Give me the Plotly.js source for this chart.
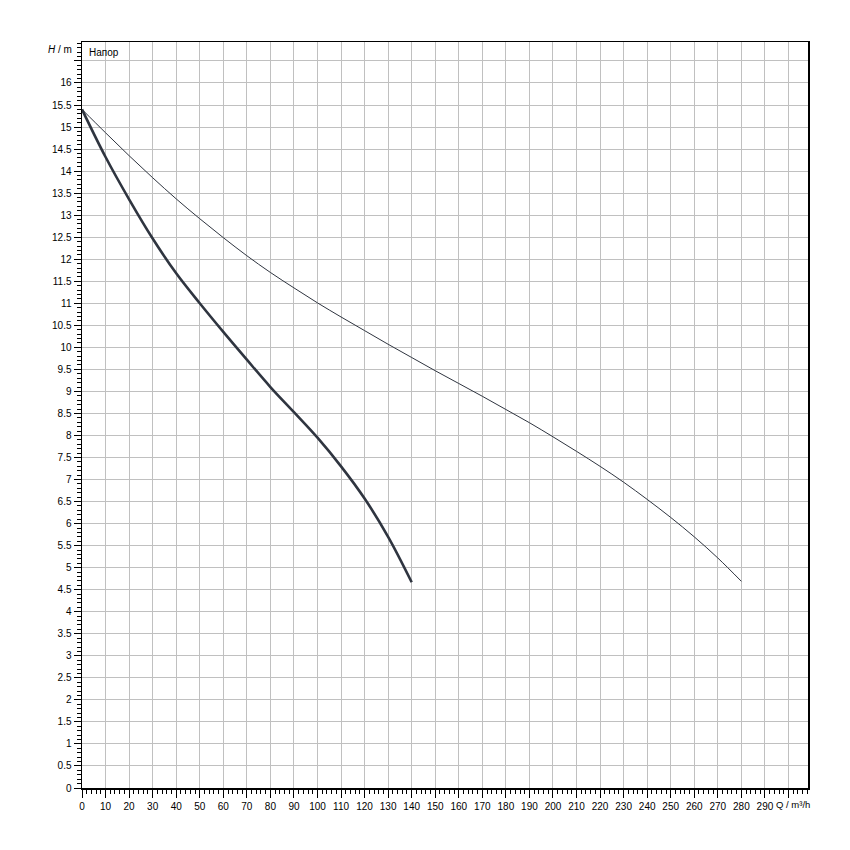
<!DOCTYPE html>
<html>
<head>
<meta charset="utf-8">
<script src="https://cdn.plot.ly/plotly-3.0.1.min.js"></script>
<style>html,body{margin:0;padding:0;background:#fff;}#chart{width:850px;height:850px;}</style>
</head>
<body>
<div id="chart"></div>
<script>
// Pump curve 1 (thick)
const q1 = [0, 10, 20, 30, 40, 50, 60, 70, 80, 90, 100, 110, 120, 130, 140];
const h1 = [15.4, 14.32, 13.36, 12.47, 11.68, 11.0, 10.35, 9.72, 9.1, 8.53, 7.95, 7.3, 6.57, 5.7, 4.67];
// Pump curve 2 (thin)
const q2 = [0, 10, 20, 30, 40, 50, 60, 70, 80, 90, 100, 110, 120, 130, 140, 150, 160, 170, 180, 190, 200, 210, 220, 230, 240, 250, 260, 270, 280];
const h2 = [15.4, 14.87, 14.35, 13.85, 13.37, 12.92, 12.49, 12.08, 11.70, 11.35, 11.01, 10.69, 10.38, 10.07, 9.77, 9.47, 9.18, 8.89, 8.59, 8.29, 7.97, 7.64, 7.30, 6.94, 6.55, 6.14, 5.70, 5.22, 4.69];

const xTickVals = [];
const xTickText = [];
for (let v = 0; v <= 300; v += 10) { xTickVals.push(v); xTickText.push(v <= 290 ? String(v) : ''); }
const yTickVals = [];
const yTickText = [];
for (let i = 0; i <= 33; i++) { const v = i * 0.5; yTickVals.push(v); yTickText.push(v <= 16 ? String(v) : ''); }

const lineColor = '#2f3540';
const traces = [
  {x: q2, y: h2, type: 'scatter', mode: 'lines', line: {color: lineColor, width: 1, shape: 'spline', smoothing: 1}, hoverinfo: 'skip'},
  {x: q1, y: h1, type: 'scatter', mode: 'lines', line: {color: lineColor, width: 2.6, shape: 'spline', smoothing: 1}, hoverinfo: 'skip'}
];

const fontFam = '"Liberation Sans", Arial, sans-serif';
const layout = {
  width: 850, height: 850,
  margin: {l: 82, r: 42, t: 42, b: 62},
  paper_bgcolor: '#ffffff', plot_bgcolor: '#ffffff',
  showlegend: false,
  font: {family: fontFam, size: 10, color: '#000'},
  xaxis: {
    range: [0, 308.3], tickmode: 'array', tickvals: xTickVals, ticktext: xTickText,
    showgrid: true, gridcolor: '#c0c0c0', gridwidth: 1, zeroline: false,
    showline: true, linecolor: '#000', linewidth: 1.5, mirror: true,
    ticks: 'outside', ticklen: 8, tickwidth: 1, tickcolor: '#000',
    tickfont: {family: fontFam, size: 10, color: '#000'},
    minor: {dtick: 2, ticks: 'outside', ticklen: 4, tickcolor: '#000', showgrid: false},
    fixedrange: true
  },
  yaxis: {
    range: [0, 16.93], tickmode: 'array', tickvals: yTickVals, ticktext: yTickText,
    showgrid: true, gridcolor: '#c0c0c0', gridwidth: 1, zeroline: false,
    showline: true, linecolor: '#000', linewidth: 1.5, mirror: true,
    ticks: 'outside', ticklen: 7, tickwidth: 1, tickcolor: '#000',
    tickfont: {family: fontFam, size: 10, color: '#000'},
    minor: {dtick: 0.1, ticks: 'outside', ticklen: 4, tickcolor: '#000', showgrid: false},
    fixedrange: true
  },
  annotations: [
    {xref: 'paper', yref: 'y', x: 0, y: 16.76, xanchor: 'right', yanchor: 'middle', xshift: -8, showarrow: false,
     text: '<i>H</i> / m', font: {family: fontFam, size: 10, color: '#000'}},
    {xref: 'paper', yref: 'y', x: 0, y: 16.69, xanchor: 'left', yanchor: 'middle', xshift: 5, showarrow: false,
     text: 'Напор', font: {family: fontFam, size: 10, color: '#000'}},
    {xref: 'paper', yref: 'paper', x: 1, y: 0, xanchor: 'right', yanchor: 'top', yshift: -9, xshift: 4, showarrow: false,
     text: 'Q / m³/h', font: {family: fontFam, size: 9.5, color: '#000'}}
  ]
};

Plotly.newPlot('chart', traces, layout, {displayModeBar: false, staticPlot: true});
</script>
</body>
</html>
